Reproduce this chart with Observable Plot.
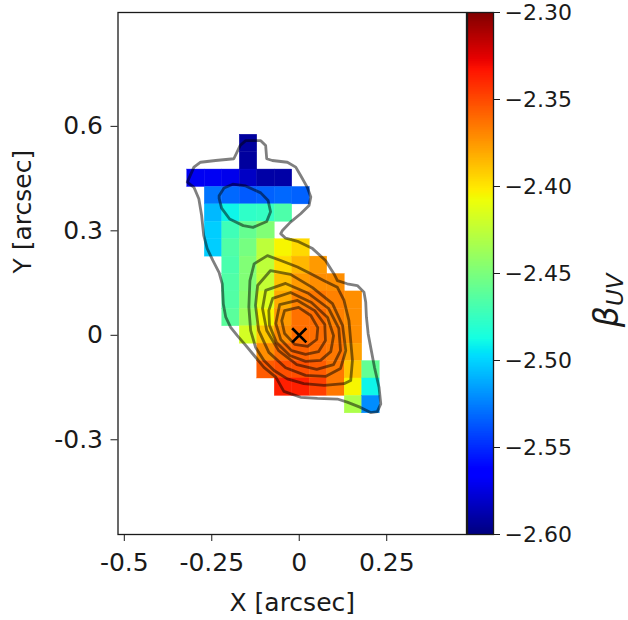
<!DOCTYPE html>
<html>
<head>
<meta charset="utf-8">
<script src="https://cdn.jsdelivr.net/npm/d3@7"></script>
<script src="https://cdn.jsdelivr.net/npm/@observablehq/plot@0.6"></script>
<style>
  body { margin: 0; background: #fff; }
  #wrap { position: relative; width: 628px; height: 620px; }
  #wrap svg { position: absolute; left: 0; top: 0; }
</style>
</head>
<body>
<div id="wrap"></div>
<script>
// ---------------- DATA ----------------
// pixel-map grid (arcsec): column centres and row centres
const xCenters = [-0.295, -0.245, -0.195, -0.145, -0.095, -0.045, 0.005, 0.055, 0.105, 0.155, 0.205];
const yCenters = [0.551, 0.501, 0.451, 0.401, 0.351, 0.301, 0.251, 0.201, 0.151, 0.101, 0.051, 0.001, -0.049, -0.099, -0.149, -0.199];
const pixelSize = 0.05;

// beta_UV value of each pixel (null = masked), rows top to bottom
const n = null;
const betaRows = [
  [n, n, n, -2.592, n, n, n, n, n, n, n],
  [n, n, n, -2.592, n, n, n, n, n, n, n],
  [-2.570, -2.570, -2.572, -2.582, -2.590, -2.590, n, n, n, n, n],
  [n, -2.528, -2.532, -2.536, -2.534, -2.532, -2.534, n, n, n, n],
  [n, -2.508, -2.490, -2.478, -2.476, -2.467, n, n, n, n, n],
  [n, -2.502, -2.472, -2.458, -2.448, n, n, n, n, n, n],
  [n, -2.502, -2.466, -2.452, -2.426, -2.405, -2.396, n, n, n, n],
  [n, n, -2.468, -2.448, -2.426, -2.397, -2.385, -2.376, n, n, n],
  [n, n, -2.466, -2.448, -2.424, -2.388, -2.376, -2.372, -2.372, n, n],
  [n, n, -2.465, -2.445, -2.415, -2.381, -2.368, -2.365, -2.368, -2.372, n],
  [n, n, -2.462, -2.438, -2.405, -2.376, -2.363, -2.362, -2.368, -2.372, n],
  [n, n, n, -2.418, -2.390, -2.372, -2.362, -2.362, -2.366, -2.372, n],
  [n, n, n, n, -2.372, -2.362, -2.358, -2.362, -2.365, -2.378, n],
  [n, n, n, n, -2.356, -2.352, -2.352, -2.356, -2.365, -2.390, -2.459],
  [n, n, n, n, n, -2.337, -2.337, -2.347, -2.365, -2.405, -2.490],
  [n, n, n, n, n, n, n, n, n, -2.432, -2.521]
];

// flux contours (arcsec vertices, closed)
const contourOuter = [[-0.320,0.440],[-0.301,0.483],[-0.282,0.497],[-0.239,0.502],[-0.187,0.507],[-0.169,0.545],[-0.153,0.559],[-0.110,0.559],[-0.096,0.545],[-0.093,0.507],[-0.077,0.502],[-0.034,0.497],[-0.010,0.483],[0.004,0.459],[0.023,0.425],[0.033,0.397],[0.028,0.373],[0.004,0.349],[-0.025,0.325],[-0.048,0.301],[-0.053,0.292],[-0.039,0.279],[-0.002,0.269],[0.038,0.249],[0.075,0.215],[0.099,0.177],[0.109,0.157],[0.137,0.148],[0.166,0.143],[0.185,0.124],[0.190,0.095],[0.192,0.052],[0.197,0.004],[0.206,-0.044],[0.215,-0.092],[0.228,-0.149],[0.233,-0.197],[0.223,-0.219],[0.204,-0.222],[0.175,-0.207],[0.137,-0.192],[0.109,-0.183],[0.052,-0.181],[0.004,-0.178],[-0.044,-0.161],[-0.067,-0.120],[-0.101,-0.092],[-0.129,-0.058],[-0.153,-0.029],[-0.177,-0.001],[-0.196,0.023],[-0.210,0.052],[-0.217,0.090],[-0.220,0.148],[-0.229,0.180],[-0.247,0.215],[-0.263,0.249],[-0.273,0.287],[-0.279,0.344],[-0.287,0.392],[-0.301,0.425]];
const contourClump = [[-0.229,0.401],[-0.215,0.423],[-0.190,0.434],[-0.153,0.429],[-0.110,0.409],[-0.089,0.387],[-0.082,0.355],[-0.093,0.327],[-0.132,0.310],[-0.160,0.315],[-0.199,0.334],[-0.222,0.365],[-0.229,0.393]];
const contourL2 = [[-0.129,0.205],[-0.091,0.229],[-0.053,0.215],[-0.005,0.196],[0.033,0.177],[0.071,0.157],[0.109,0.138],[0.128,0.100],[0.142,0.042],[0.147,-0.015],[0.152,-0.072],[0.147,-0.130],[0.128,-0.139],[0.071,-0.144],[0.013,-0.139],[-0.034,-0.125],[-0.072,-0.101],[-0.101,-0.072],[-0.125,-0.034],[-0.139,0.014],[-0.144,0.081],[-0.141,0.157]];
const contourL3 = [[-0.119,0.143],[-0.082,0.186],[-0.025,0.175],[0.038,0.137],[0.095,0.091],[0.124,0.028],[0.133,-0.044],[0.118,-0.095],[0.075,-0.118],[0.018,-0.115],[-0.039,-0.093],[-0.087,-0.049],[-0.116,0.014],[-0.125,0.086]];
const contourL4 = [[-0.096,0.129],[-0.039,0.149],[0.027,0.120],[0.084,0.077],[0.113,0.020],[0.118,-0.044],[0.098,-0.084],[0.050,-0.098],[-0.007,-0.084],[-0.059,-0.044],[-0.093,0.014],[-0.105,0.077]];
const contourL5 = [[-0.076,0.106],[-0.025,0.123],[0.035,0.094],[0.081,0.051],[0.098,-0.001],[0.090,-0.047],[0.061,-0.072],[0.018,-0.075],[-0.027,-0.058],[-0.065,-0.021],[-0.085,0.028],[-0.087,0.071]];
const contourL6 = [[-0.056,0.088],[-0.005,0.100],[0.044,0.071],[0.073,0.031],[0.075,-0.015],[0.055,-0.047],[0.018,-0.055],[-0.022,-0.044],[-0.053,-0.012],[-0.067,0.034]];
const contourL7 = [[-0.042,0.071],[-0.002,0.080],[0.033,0.057],[0.053,0.022],[0.050,-0.012],[0.024,-0.032],[-0.013,-0.026],[-0.042,0.005],[-0.050,0.042]];

// centroid marker
const markerX = [0];
const markerY = [0];

// axes
const xTicks = [-0.5, -0.25, 0, 0.25];
const xTickLabels = ["-0.5", "-0.25", "0", "0.25"];
const yTicks = [-0.3, 0, 0.3, 0.6];
const yTickLabels = ["-0.3", "0", "0.3", "0.6"];
const xDomain = [-0.518, 0.478];
const yDomain = [-0.572, 0.927];
const betaDomain = [-2.6, -2.3];
const cbTicks = [-2.60, -2.55, -2.50, -2.45, -2.40, -2.35, -2.30];

// ---------------- COLORMAP (matplotlib jet) ----------------
const jetSeg = {
  r: [[0, 0], [0.35, 0], [0.66, 1], [0.89, 1], [1, 0.5]],
  g: [[0, 0], [0.125, 0], [0.375, 1], [0.64, 1], [0.91, 0], [1, 0]],
  b: [[0, 0.5], [0.11, 1], [0.34, 1], [0.65, 0], [1, 0]]
};
function seg(pts, t) {
  t = Math.max(0, Math.min(1, t));
  for (let i = 1; i < pts.length; i++) {
    if (t <= pts[i][0]) {
      const [t0, v0] = pts[i - 1], [t1, v1] = pts[i];
      return v0 + (v1 - v0) * (t - t0) / (t1 - t0);
    }
  }
  return pts[pts.length - 1][1];
}
function jet(t) {
  const c = k => Math.round(255 * seg(jetSeg[k], t));
  return `rgb(${c("r")},${c("g")},${c("b")})`;
}

// ---------------- TABLES ----------------
const cells = [];
betaRows.forEach((row, r) => row.forEach((v, c) => {
  if (v != null) cells.push({x: xCenters[c], y: yCenters[r], beta: v});
}));
const contourSets = {outer: contourOuter, clump: contourClump, l2: contourL2, l3: contourL3, l4: contourL4, l5: contourL5, l6: contourL6, l7: contourL7};
const contourRows = Object.entries(contourSets).flatMap(([id, pts]) => pts.map(([x, y]) => ({id, x, y})));
const markers = markerX.map((x, i) => ({x, y: markerY[i]}));
const xLab = new Map(xTicks.map((t, i) => [t, xTickLabels[i]]));
const yLab = new Map(yTicks.map((t, i) => [t, yTickLabels[i]]));

const colorScale = {type: "linear", domain: betaDomain, interpolate: t => jet(t), clamp: true};
const half = pixelSize / 2;
const textColor = "#1a1a1a";

// ---------------- MAIN PANEL ----------------
const main = Plot.plot({
  width: 628,
  height: 620,
  marginLeft: 117.5,
  marginRight: 162,
  marginTop: 12,
  marginBottom: 86,
  style: {fontFamily: "DejaVu Sans", fontSize: "25px", color: textColor, background: "white"},
  x: {domain: xDomain, ticks: xTicks, tickFormat: d => xLab.get(d), tickSize: 7, tickPadding: 12, label: null},
  y: {domain: yDomain, ticks: yTicks, tickFormat: d => yLab.get(d), tickSize: 7, tickPadding: 8, label: null},
  color: colorScale,
  marks: [
    Plot.rect(cells, {
      x1: d => d.x - half, x2: d => d.x + half,
      y1: d => d.y - half, y2: d => d.y + half,
      fill: "beta", stroke: "beta", strokeWidth: 0.4
    }),
    Plot.line(contourRows, {
      x: "x", y: "y", z: "id", curve: "linear-closed",
      stroke: "black", strokeOpacity: 0.5, strokeWidth: 2.8, strokeLinejoin: "round"
    }),
    Plot.dot(markers, {x: "x", y: "y", symbol: "times", r: 6.5, stroke: "black", strokeWidth: 2.6}),
    Plot.frame({stroke: textColor, strokeWidth: 1.3}),
    Plot.text(["X [arcsec]"], {frameAnchor: "bottom", dy: 76, text: d => d, fontSize: 25, fill: textColor}),
    Plot.text(["Y [arcsec]"], {frameAnchor: "left", dx: -95, rotate: -90, text: d => d, fontSize: 25, fill: textColor})
  ]
});

// ---------------- COLORBAR ----------------
const gradStep = 0.001;
const gradient = d3.range(betaDomain[0], betaDomain[1], gradStep);
const cbar = Plot.plot({
  width: 628,
  height: 620,
  marginLeft: 467,
  marginRight: 135,
  marginTop: 12,
  marginBottom: 86,
  style: {fontFamily: "DejaVu Sans", fontSize: "22px", color: textColor, background: "transparent"},
  x: {domain: [0, 1], axis: null},
  y: {domain: betaDomain, ticks: cbTicks, tickFormat: d3.format(".2f"), axis: "right", tickSize: 6, tickPadding: 5, label: null},
  color: colorScale,
  marks: [
    Plot.rect(gradient, {
      x1: () => 0, x2: () => 1,
      y1: d => d, y2: d => Math.min(d + gradStep * 1.5, betaDomain[1]),
      fill: d => d + gradStep / 2
    }),
    Plot.frame({stroke: textColor, strokeWidth: 1.3}),
    Plot.text(["βUV"], {frameAnchor: "right", dx: 114, rotate: -90, text: d => d, fontSize: 33, fontStyle: "italic", fill: textColor})
  ]
});

const wrap = document.getElementById("wrap");
wrap.appendChild(main);
wrap.appendChild(cbar);

// subscript for beta_UV
d3.select(cbar).selectAll("text").filter(function () { return this.textContent === "βUV"; })
  .each(function () {
    const t = d3.select(this);
    t.text("");
    t.append("tspan").text("β");
    t.append("tspan").attr("dy", "0.22em").attr("font-size", 23).text("UV");
  });
</script>
</body>
</html>
